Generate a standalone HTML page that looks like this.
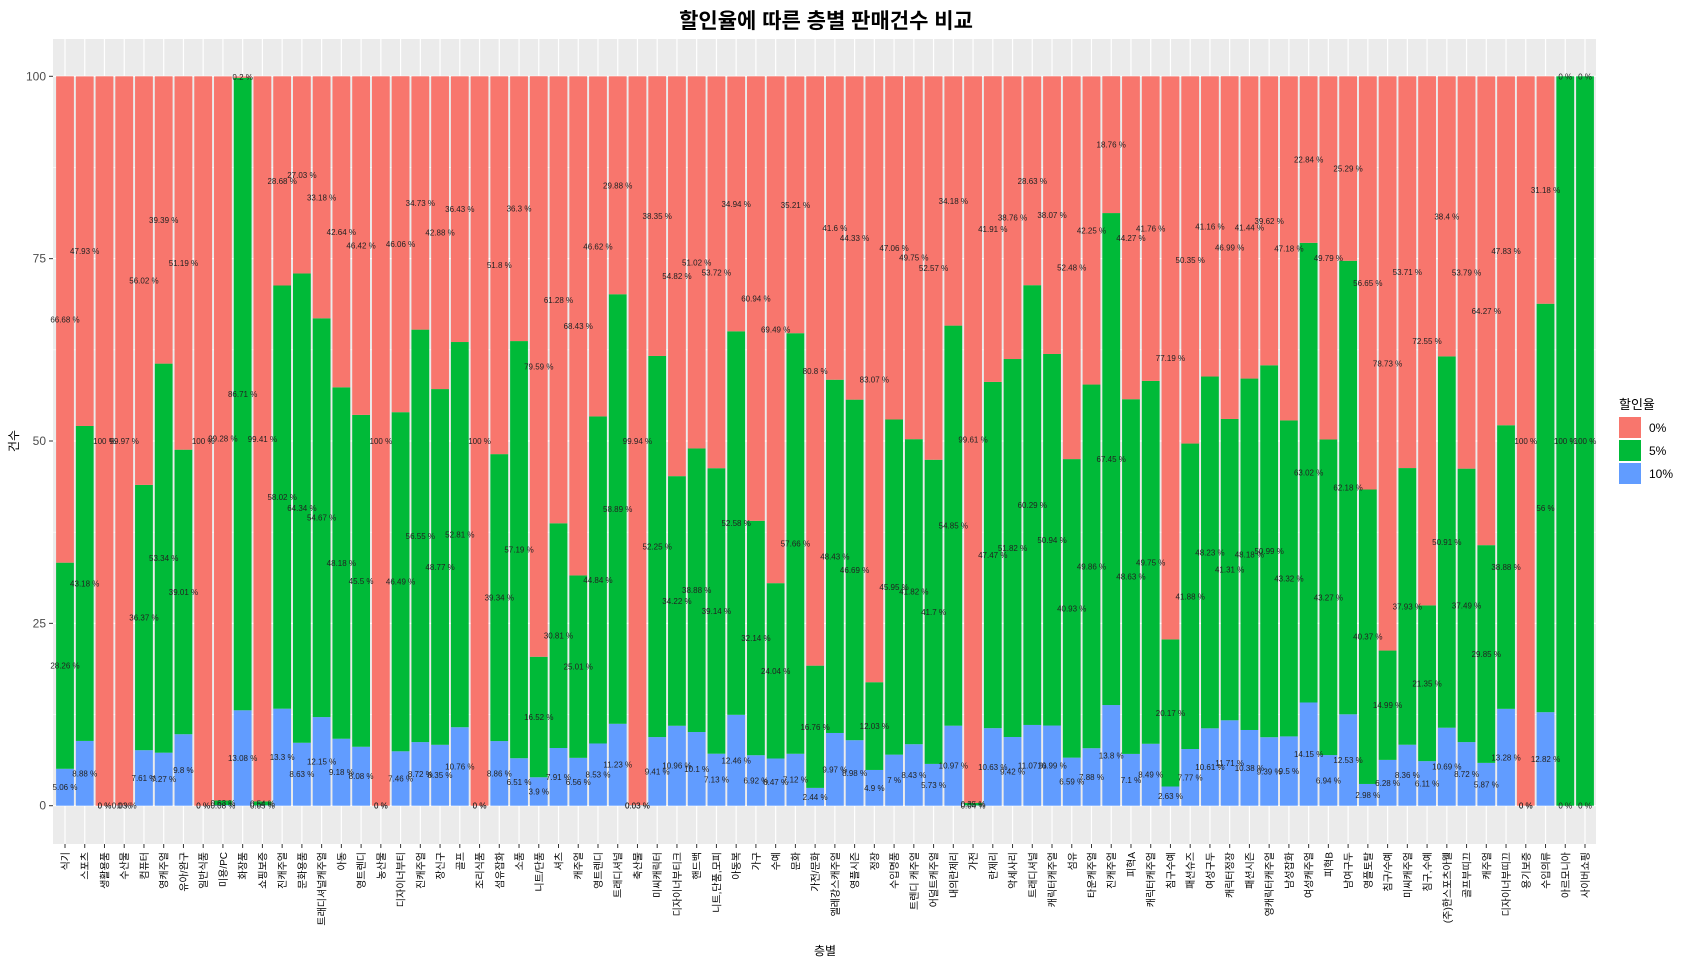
<!DOCTYPE html>
<html><head><meta charset="utf-8">
<style>
html,body{margin:0;padding:0;background:#fff;}
svg{display:block;font-family:"Liberation Sans","Noto Sans CJK KR",sans-serif;}
</style></head>
<body>
<svg id="chart" width="1689" height="961" viewBox="0 0 1689 961" xmlns="http://www.w3.org/2000/svg">
<text x="826" y="28" text-anchor="middle" font-size="21" font-weight="bold" font-family="'Liberation Sans','Noto Sans CJK KR',sans-serif" fill="#000">할인율에 따른 층별 판매건수 비교</text>
<rect x="53" y="39" width="1543" height="805" fill="#EBEBEB"/>
<g id="grid"></g>
<g id="bars"></g>
<g id="labels"></g>
<g id="yaxis"></g>
<g id="xaxis"></g>
<text transform="translate(18,441) rotate(-90)" text-anchor="middle" font-size="12" fill="#000">건수</text>
<text x="825" y="955" text-anchor="middle" font-size="12" fill="#000">층별</text>
<g>
<text x="1619" y="409" font-size="13" fill="#000">할인율</text>
<rect x="1619" y="417" width="22" height="21" fill="#F8766D"/>
<text x="1649" y="432" font-size="12" fill="#000">0%</text>
<rect x="1619" y="440" width="22" height="21" fill="#00BA38"/>
<text x="1649" y="455" font-size="12" fill="#000">5%</text>
<rect x="1619" y="463" width="22" height="21" fill="#619CFF"/>
<text x="1649" y="478" font-size="12" fill="#000">10%</text>
</g>
</svg>
<script>
const categories = ["식기","스포츠","생활용품","수산물","컴퓨터","영캐주얼","유아/완구","일반식품","미용/PC","화장품","쇼핑보증","진캐주얼","문화용품","트래디셔널캐주얼","아동","영트렌디","농산물","디자이너부티","진캐주얼","장신구","골프","조리식품","섬유잡화","소품","니트/단품","셔츠","캐주얼","영트렌디","트래디셔널","축산물","미씨캐릭터","디자이너부티크","핸드백","니트,단품,모피","아동복","가구","수예","문화","가전/문화","엘레강스캐주얼","영플시즌","정장","수입명품","트렌디 캐주얼","어덜트캐주얼","내의란제리","가전","란제리","악세사리","트래디셔널","캐릭터캐주얼","섬유","타운캐주얼","진캐주얼","피혁A","캐릭터캐주얼","침구수예","패션슈즈","여성구두","캐릭터정장","패션시즌","영캐릭터캐주얼","남성잡화","여성캐주얼","피혁B","남여구두","영플토탈","침구/수예","미씨캐주얼","침구,수예","(주)한스포츠아웰","골프부띠끄","캐주얼","디자이너부띠끄","용기보증","수입의류","아르모니아","사이버쇼핑"];
const blue10 = [5.06,8.88,0,0.03,7.61,7.27,9.8,0,0.08,13.08,0.05,13.3,8.63,12.15,9.18,8.08,0,7.46,8.72,8.35,10.76,0,8.86,6.51,3.9,7.91,6.56,8.53,11.23,0.03,9.41,10.96,10.1,7.13,12.46,6.92,6.47,7.12,2.44,9.97,8.98,4.9,7,8.43,5.73,10.97,0.04,10.63,9.42,11.07,10.99,6.59,7.88,13.8,7.1,8.49,2.63,7.77,10.61,11.71,10.38,9.39,9.5,14.15,6.94,12.53,2.98,6.28,8.36,6.11,10.69,8.72,5.87,13.28,0,12.82,0,0];
const green5 = [28.26,43.18,0,0,36.37,53.34,39.01,0,0.63,86.71,0.54,58.02,64.34,54.67,48.18,45.5,0,46.49,56.55,48.77,52.81,0,39.34,57.19,16.52,30.81,25.01,44.84,58.89,0.03,52.25,34.22,38.88,39.14,52.58,32.14,24.04,57.66,16.76,48.43,46.69,12.03,45.95,41.82,41.7,54.85,0.35,47.47,51.82,60.29,50.94,40.93,49.86,67.45,48.63,49.75,20.17,41.88,48.23,41.31,48.18,50.99,43.32,63.02,43.27,62.18,40.37,14.99,37.93,21.35,50.91,37.49,29.85,38.88,0,56,100,100];
const red0 = [66.68,47.93,100,99.97,56.02,39.39,51.19,100,99.28,0.2,99.41,28.68,27.03,33.18,42.64,46.42,100,46.06,34.73,42.88,36.43,100,51.8,36.3,79.59,61.28,68.43,46.62,29.88,99.94,38.35,54.82,51.02,53.72,34.94,60.94,69.49,35.21,80.8,41.6,44.33,83.07,47.06,49.75,52.57,34.18,99.61,41.91,38.76,28.63,38.07,52.48,42.25,18.76,44.27,41.76,77.19,50.35,41.16,46.99,41.44,39.62,47.18,22.84,49.79,25.29,56.65,78.73,53.71,72.55,38.4,53.79,64.27,47.83,100,31.18,0,0];
const yTicks = [0,25,50,75,100];

const NS="http://www.w3.org/2000/svg";
const X0=65, X1=1585, Y0=805.7, YTOP=76.3, BW=17.8;
const step=(X1-X0)/(categories.length-1);
const xs=i=>X0+i*step;
const ys=v=>Y0-(Y0-YTOP)*v/100;
function mk(tag,attrs,parent){const e=document.createElementNS(NS,tag);for(const k in attrs)e.setAttribute(k,attrs[k]);parent.appendChild(e);return e;}
const grid=document.getElementById('grid'),bars=document.getElementById('bars'),labels=document.getElementById('labels'),yax=document.getElementById('yaxis'),xax=document.getElementById('xaxis');
// minor horizontal
for(let i=0;i<yTicks.length-1;i++){const v=(yTicks[i]+yTicks[i+1])/2;const l=mk('line',{x1:53,x2:1596,y1:ys(v),y2:ys(v),stroke:'#fff','stroke-width':0.6},grid);}
yTicks.forEach(t=>{const l=mk('line',{x1:53,x2:1596,y1:ys(t),y2:ys(t),stroke:'#fff','stroke-width':1.2},grid);
 const tk=mk('line',{x1:49,x2:53,y1:ys(t),y2:ys(t),stroke:'#333','stroke-width':1},yax);
 const tx=mk('text',{x:46,y:ys(t)+4,'text-anchor':'end','font-size':12,fill:'#4D4D4D'},yax);tx.textContent=t;});
const fmt=v=>v+' %';
categories.forEach((c,i)=>{
 const x=xs(i);
 const g=mk('line',{x1:x,x2:x,y1:39,y2:844,stroke:'#fff','stroke-width':1.2},grid);
 const segs=[[blue10[i],'#619CFF','blue'],[green5[i],'#00BA38','green'],[red0[i],'#F8766D','red']];
 let base=0;
 segs.forEach(s=>{
  const v=s[0];
  const r=mk('rect',{x:x-BW/2,y:ys(base+v),width:BW,height:Math.max(0,ys(base)-ys(base+v)),fill:s[1]},bars);
  
  
  const t=mk('text',{x:x,y:ys(base+v/2)+3,'text-anchor':'middle','font-size':8,fill:'#222'},labels);
  t.textContent=fmt(v);
  
  
  base+=v;
 });
 const tk=mk('line',{x1:x,x2:x,y1:844,y2:848,stroke:'#333','stroke-width':1},xax);
 const lb=mk('text',{transform:`translate(${x+4},852) rotate(-90)`,'text-anchor':'end','font-size':10,fill:'#000'},xax);
 lb.textContent=c;
 
 
});
</script>
</body></html>
